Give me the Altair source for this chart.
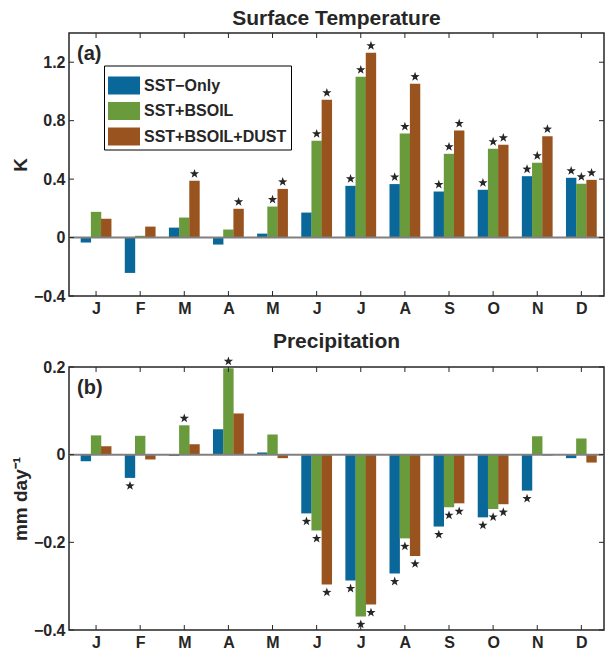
import json
import altair as alt
import pandas as pd

# ---------------- data ----------------
months = list(range(1, 13))
month_labels = ["J", "F", "M", "A", "M", "J", "J", "A", "S", "O", "N", "D"]
series = ["SST−Only", "SST+BSOIL", "SST+BSOIL+DUST"]
colors = ["#0A6799", "#699B3C", "#98531F"]

# Surface temperature (K)
t_sst = [-0.034, -0.242, 0.068, -0.048, 0.027, 0.171, 0.354, 0.366, 0.315, 0.327, 0.420, 0.409]
t_bsoil = [0.176, 0.012, 0.137, 0.055, 0.212, 0.662, 1.100, 0.712, 0.573, 0.608, 0.512, 0.368]
t_dust = [0.128, 0.075, 0.388, 0.197, 0.333, 0.943, 1.265, 1.053, 0.733, 0.635, 0.694, 0.395]
t_sig_sst = [0, 0, 0, 0, 0, 0, 1, 1, 1, 1, 1, 1]
t_sig_bsoil = [0, 0, 0, 0, 1, 1, 1, 1, 1, 1, 1, 1]
t_sig_dust = [0, 0, 1, 1, 1, 1, 1, 1, 1, 1, 1, 1]
t_ticks = [-0.4, 0, 0.4, 0.8, 1.2]

# Precipitation (mm day-1)
p_sst = [-0.015, -0.053, -0.003, 0.058, 0.005, -0.134, -0.287, -0.271, -0.164, -0.143, -0.082, -0.008]
p_bsoil = [0.044, 0.043, 0.067, 0.197, 0.046, -0.173, -0.369, -0.191, -0.120, -0.124, 0.042, 0.037]
p_dust = [0.019, -0.011, 0.024, 0.094, -0.008, -0.296, -0.342, -0.231, -0.111, -0.113, -0.002, -0.018]
p_sig_sst = [0, 1, 0, 0, 0, 1, 1, 1, 1, 1, 1, 0]
p_sig_bsoil = [0, 0, 1, 1, 0, 1, 1, 1, 1, 1, 0, 0]
p_sig_dust = [0, 0, 0, 0, 0, 1, 1, 1, 1, 1, 0, 0]
p_ticks = [-0.4, -0.2, 0, 0.2]

FONT = "Liberation Sans"
INK = "#262626"
W, H = 535, 263
STAR = ("M0,-1L0.235,-0.324L0.951,-0.309L0.38,0.124L0.588,0.809L0,0.4"
        "L-0.588,0.809L-0.38,0.124L-0.951,-0.309L-0.235,-0.324Z")
RECT = "M-1,-0.5625H1V0.5625H-1Z"


def build_df(vals, sigs):
    rows = []
    for s, (v, g) in enumerate(zip(vals, sigs)):
        for m, val, sg in zip(months, v, g):
            rows.append({"month": m, "s": s, "series": series[s], "value": val, "sig": sg})
    return pd.DataFrame(rows)


def panel(df, ticks, domain, title, ytitle, tag, show_legend):
    xscale = alt.Scale(domain=[0.5, 12.4], nice=False, zero=False)
    yscale = alt.Scale(domain=domain, nice=False, zero=False)
    xaxis = alt.Axis(values=months, title=None, ticks=False, domain=False, grid=False,
                     labelExpr=json.dumps(month_labels) + "[datum.value - 1]",
                     labelFontSize=16, labelFontWeight="bold", labelFont=FONT,
                     labelColor=INK, labelPadding=4)
    yaxis = alt.Axis(values=ticks, title=ytitle, ticks=False, domain=False, grid=False,
                     labelExpr="datum.value == 0 ? '0' : replace(format(datum.value, '.1f'), '-', '−')",
                     labelFontSize=16, labelFontWeight="bold", labelFont=FONT, labelColor=INK,
                     labelPadding=4, titleFontSize=19, titleFontWeight="bold", titleFont=FONT,
                     titleColor=INK, titlePadding=3)

    def X(f):
        return alt.X(f, scale=xscale, axis=xaxis)

    def Y(f):
        return alt.Y(f, scale=yscale, axis=yaxis)

    base = alt.Chart(df).transform_calculate(xpos="datum.month + (datum.s - 1) * 0.231")

    if show_legend:
        legend = alt.Legend(title=None, orient="none", legendX=35, legendY=32.5,
                            symbolType=RECT, symbolSize=1024, symbolStrokeWidth=0,
                            labelFontSize=16, labelFontWeight="bold", labelFont=FONT,
                            labelColor=INK, labelOffset=4, padding=4, rowPadding=0.5,
                            strokeColor="black", fillColor="white", labelLimit=300)
    else:
        legend = None
    color = alt.Color("series:N", scale=alt.Scale(domain=series, range=colors), legend=legend)

    bars = base.mark_bar(size=10.4, orient="vertical").encode(
        x=X("xpos:Q"), y=Y("value:Q"), y2=alt.datum(0), color=color)

    zero = alt.Chart(pd.DataFrame({"z": [0]})).mark_rule(color="#808080", strokeWidth=2).encode(
        y=Y("z:Q"))

    star_up = base.transform_filter("datum.sig == 1 && datum.value > 0").mark_point(
        shape=STAR, filled=True, size=95, color=INK, opacity=1, yOffset=-7).encode(
        x=X("xpos:Q"), y=Y("value:Q"))
    star_dn = base.transform_filter("datum.sig == 1 && datum.value < 0").mark_point(
        shape=STAR, filled=True, size=95, color=INK, opacity=1, yOffset=8).encode(
        x=X("xpos:Q"), y=Y("value:Q"))

    tdf = pd.DataFrame({"t": ticks})
    mdf = pd.DataFrame({"m": months})
    lt = alt.Chart(tdf).mark_rule(color=INK, strokeWidth=1).encode(
        y=Y("t:Q"), x=alt.value(0), x2=alt.value(5))
    rt = alt.Chart(tdf).mark_rule(color=INK, strokeWidth=1).encode(
        y=Y("t:Q"), x=alt.value(W - 5), x2=alt.value(W))
    tt = alt.Chart(mdf).mark_rule(color=INK, strokeWidth=1).encode(
        x=X("m:Q"), y=alt.value(0), y2=alt.value(5))
    bt = alt.Chart(mdf).mark_rule(color=INK, strokeWidth=1).encode(
        x=X("m:Q"), y=alt.value(H - 5), y2=alt.value(H))

    label = alt.Chart(pd.DataFrame({"tag": [tag]})).mark_text(
        font=FONT, fontSize=20, fontWeight="bold", color=INK, align="left", baseline="middle").encode(
        text="tag:N", x=alt.value(8), y=alt.value(21))

    return alt.layer(bars, zero, star_up, star_dn, lt, rt, tt, bt, label).properties(
        width=W, height=H,
        title=alt.TitleParams(title, fontSize=21, fontWeight="bold", font=FONT, color=INK,
                              anchor="middle", offset=4))


top = panel(build_df([t_sst, t_bsoil, t_dust], [t_sig_sst, t_sig_bsoil, t_sig_dust]),
            t_ticks, [-0.4, 1.4], "Surface Temperature", "K", "(a)", True)
bottom = panel(build_df([p_sst, p_bsoil, p_dust], [p_sig_sst, p_sig_bsoil, p_sig_dust]),
               p_ticks, [-0.4, 0.2], "Precipitation", "mm day⁻¹", "(b)", False)

chart = alt.vconcat(top, bottom, spacing=13).resolve_legend(color="independent").properties(
    padding={"left": 10, "top": 6, "right": 0, "bottom": 0},
    background="white",
).configure_view(stroke=INK, strokeWidth=1.5)

chart.save("out.html", embed_options={"renderer": "svg", "actions": False})
